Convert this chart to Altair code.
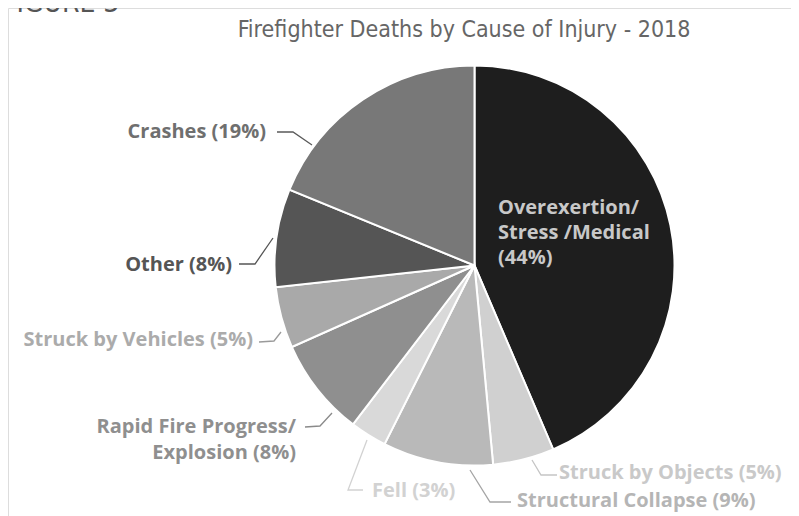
import altair as alt
import pandas as pd

# ---- data ----
causes = ["Overexertion/Stress /Medical", "Struck by Objects", "Structural Collapse",
          "Fell", "Rapid Fire Progress/Explosion", "Struck by Vehicles", "Other", "Crashes"]
percents = [44, 5, 9, 3, 8, 5, 8, 19]
slice_colors = ["#1e1e1e", "#d0d0d0", "#b9b9b9", "#d9d9d9", "#8f8f8f", "#a9a9a9", "#555555", "#787878"]

title_text = "Firefighter Deaths by Cause of Injury - 2018"
figure_text = "FIGURE 3"

# ---- layout (annotation positions in page pixels, offset by 8px page margin) ----
OFF = 8
CX, CY, R = 474.5 - OFF, 265.5 - OFF, 200
COND = "DejaVu Sans Condensed, Roboto Condensed, Liberation Sans Narrow, DejaVu Sans, sans-serif"

pie_df = pd.DataFrame({"cause": causes, "pct": percents, "order": list(range(len(causes)))})

labels = pd.DataFrame([
    # text, x, y, align, color
    ("Crashes (19%)", 266, 132, "right", "#6f6f6f"),
    ("Other (8%)", 232, 265, "right", "#555555"),
    ("Struck by Vehicles (5%)", 253, 340, "right", "#ababab"),
    ("Rapid Fire Progress/", 296, 427, "right", "#8f8f8f"),
    ("Explosion (8%)", 296, 453, "right", "#8f8f8f"),
    ("Fell (3%)", 372, 491, "left", "#d2d2d2"),
    ("Structural Collapse (9%)", 517, 501, "left", "#b5b5b5"),
    ("Struck by Objects (5%)", 559, 473, "left", "#c9c9c9"),
    ("Overexertion/", 498, 208, "left", "#c8c8c8"),
    ("Stress /Medical", 498, 233, "left", "#c8c8c8"),
    ("(44%)", 498, 258, "left", "#c8c8c8"),
], columns=["text", "x", "y", "align", "col"])
labels["x"] -= OFF
labels["y"] -= OFF

leaders = [
    ("crash", "#5a5a5a", [(277, 132), (293, 132), (312, 145)]),
    ("other", "#555555", [(239, 264), (255, 264), (273, 238)]),
    ("veh", "#9a9a9a", [(259, 342), (274, 341), (281, 332)]),
    ("rapid", "#8a8a8a", [(305, 427), (320, 426), (332, 413)]),
    ("fell", "#d2d2d2", [(367, 440), (348, 490), (363, 490)]),
    ("struct", "#a5a5a5", [(470, 470), (490, 502), (511, 502)]),
    ("obj", "#c5c5c5", [(532, 460), (541, 475), (557, 475)]),
]
rows = []
for lid, col, pts in leaders:
    for i, (x, y) in enumerate(pts):
        rows.append({"id": lid, "col": col, "seq": i, "x": x - OFF, "y": y - OFF})
lead_df = pd.DataFrame(rows)

pie = alt.Chart(pie_df).mark_arc(outerRadius=R, stroke="white", strokeWidth=2).encode(
    theta=alt.Theta("pct:Q", stack=True),
    order=alt.Order("order:Q"),
    color=alt.Color("cause:N", scale=alt.Scale(domain=causes, range=slice_colors), legend=None),
    x=alt.value(CX),
    y=alt.value(CY),
)

lines = alt.Chart(lead_df).mark_line(strokeWidth=1.3).encode(
    x=alt.X("x:Q", scale=None, axis=None),
    y=alt.Y("y:Q", scale=None, axis=None),
    detail="id:N",
    order="seq:Q",
    color=alt.Color("col:N", scale=None),
)

def text_layer(align):
    return alt.Chart(labels[labels["align"] == align]).mark_text(
        align=align, baseline="middle", font="Open Sans", fontWeight="bold", fontSize=20
    ).encode(
        x=alt.X("x:Q", scale=None, axis=None),
        y=alt.Y("y:Q", scale=None, axis=None),
        text="text:N",
        color=alt.Color("col:N", scale=None),
    )

title = alt.Chart(pd.DataFrame({"t": [title_text]})).mark_text(
    font=COND, fontSize=23, color="#666666", align="center", baseline="alphabetic"
).encode(x=alt.value(464 - OFF), y=alt.value(37 - OFF), text="t:N")

fig = alt.Chart(pd.DataFrame({"t": [figure_text]})).mark_text(
    font=COND, fontSize=28, color="#555555", align="left", baseline="alphabetic"
).encode(x=alt.value(-6), y=alt.value(4), text="t:N")

chart = alt.layer(pie, lines, text_layer("right"), text_layer("left"), title, fig).properties(
    width=783, height=508, autosize=alt.AutoSizeParams(type="none"), padding=0
).configure_view(stroke=None).configure(background="white")

chart.save("out.html", embed_options={"renderer": "svg", "actions": False})
